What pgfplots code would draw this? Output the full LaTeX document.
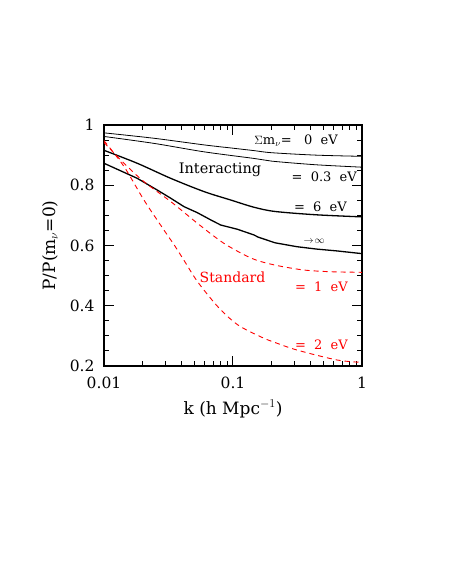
\documentclass[border=0pt]{standalone}
\usepackage{fontspec}
\setmainfont{DejaVu Serif}
\usepackage{pgfplots}
\pgfplotsset{compat=1.18}
\begin{document}
\begin{tikzpicture}
\path[use as bounding box] (-104pt,-216pt) rectangle (346pt,366pt);
\begin{axis}[
  at={(0pt,0pt)}, anchor=south west,
  scale only axis, width=258pt, height=241pt,
  xmode=log, xmin=0.01, xmax=1, ymin=0.2, ymax=1,
  xtick={0.01,0.1,1}, xticklabels={0.01,0.1,1},
  minor xtick={0.02,0.03,0.04,0.05,0.06,0.07,0.08,0.09,0.2,0.3,0.4,0.5,0.6,0.7,0.8,0.9},
  ytick={0.2,0.4,0.6,0.8,1}, yticklabels={0.2,0.4,0.6,0.8,1},
  minor y tick num=3,
  tick align=inside, major tick length=10pt, minor tick length=5pt,
  axis line style={line width=1.3pt},
  every tick/.style={line width=1pt, black},
  ticklabel style={font=\fontsize{15.5}{16}\selectfont},
  xticklabel style={yshift=-7pt},
  yticklabel style={xshift=-6pt},
  /pgf/number format/assume math mode=true,
  xlabel={k\ (h\ Mpc$^{-1}$)}, ylabel={P/P(m$_\nu$=0)},
  label style={font=\fontsize{17}{18}\selectfont},
  xlabel style={at={(axis description cs:0.5,0)}, anchor=center, yshift=-43pt},
  ylabel style={at={(axis description cs:0,0.5)}, anchor=center, yshift=54pt},
  clip=true,
]
% 0 eV
\addplot[black, line width=0.8pt, smooth] coordinates {
(0.01,0.974) (0.0244,0.956) (0.0596,0.934) (0.1,0.923) (0.1455,0.915) (0.2,0.908) (0.44,0.900) (1,0.896)};
% 0.3 eV
\addplot[black, line width=0.8pt, smooth] coordinates {
(0.01,0.962) (0.0244,0.939) (0.0596,0.911) (0.1455,0.889) (0.2,0.880) (0.44,0.868) (1,0.860)};
% 6 eV
\addplot[black, line width=1.3pt, smooth] coordinates {
(0.01,0.916) (0.0181,0.873) (0.0329,0.823) (0.0596,0.779) (0.096,0.751) (0.1455,0.727) (0.2117,0.713) (0.44,0.702) (1,0.695)};
% infinity
\addplot[black, line width=1.3pt] coordinates {
(0.01,0.873) (0.0181,0.823) (0.0259,0.784) (0.0329,0.757) (0.0417,0.729) (0.0529,0.709) (0.0672,0.685) (0.0803,0.668) (0.108,0.654) (0.1455,0.635) (0.1563,0.628) (0.2117,0.609) (0.3134,0.596) (0.4479,0.588) (0.64,0.582) (1,0.573)};
% 1 eV
\addplot[red, line width=0.9pt, dash pattern=on 5pt off 4pt, smooth] coordinates {
(0.01,0.942) (0.0143,0.873) (0.0204,0.812) (0.0331,0.745) (0.0529,0.674) (0.0852,0.607) (0.1404,0.557) (0.2117,0.535) (0.3488,0.519) (0.565,0.513) (1,0.511)};
% 2 eV
\addplot[red, line width=0.9pt, dash pattern=on 5pt off 4pt, smooth] coordinates {
(0.01,0.948) (0.0143,0.862) (0.0204,0.751) (0.0292,0.651) (0.0355,0.598) (0.0425,0.545) (0.0535,0.478) (0.077,0.395) (0.1094,0.336) (0.1678,0.295) (0.2117,0.278) (0.3134,0.253) (0.64,0.22) (1,0.212)};

\node[anchor=east, font=\fontsize{13}{14}\selectfont, inner sep=0pt] at (axis cs:0.652,0.947) {$\Sigma$m$_\nu$=\ \ \ 0\ \ eV};
\node[anchor=east, font=\fontsize{13}{14}\selectfont, inner sep=0pt] at (axis cs:0.915,0.827) {=\ \ 0.3\ \ eV};
\node[anchor=east, font=\fontsize{13}{14}\selectfont, inner sep=0pt] at (axis cs:0.765,0.728) {=\ \ 6\ \ eV};
\node[font=\fontsize{10}{11}\selectfont, inner sep=0pt] at (axis cs:0.425,0.613) {$\rightarrow\!\infty$};
\node[font=\fontsize{14.5}{15}\selectfont, inner sep=0pt] at (axis cs:0.0793,0.853) {Interacting};
\node[red, font=\fontsize{14}{15}\selectfont, inner sep=0pt] at (axis cs:0.0991,0.496) {Standard};
\node[red, anchor=east, font=\fontsize{13}{14}\selectfont, inner sep=0pt] at (axis cs:0.779,0.463) {=\ \ 1\ \ eV};
\node[red, anchor=east, font=\fontsize{13}{14}\selectfont, inner sep=0pt] at (axis cs:0.779,0.27) {=\ \ 2\ \ eV};
\end{axis}
\end{tikzpicture}
\end{document}
